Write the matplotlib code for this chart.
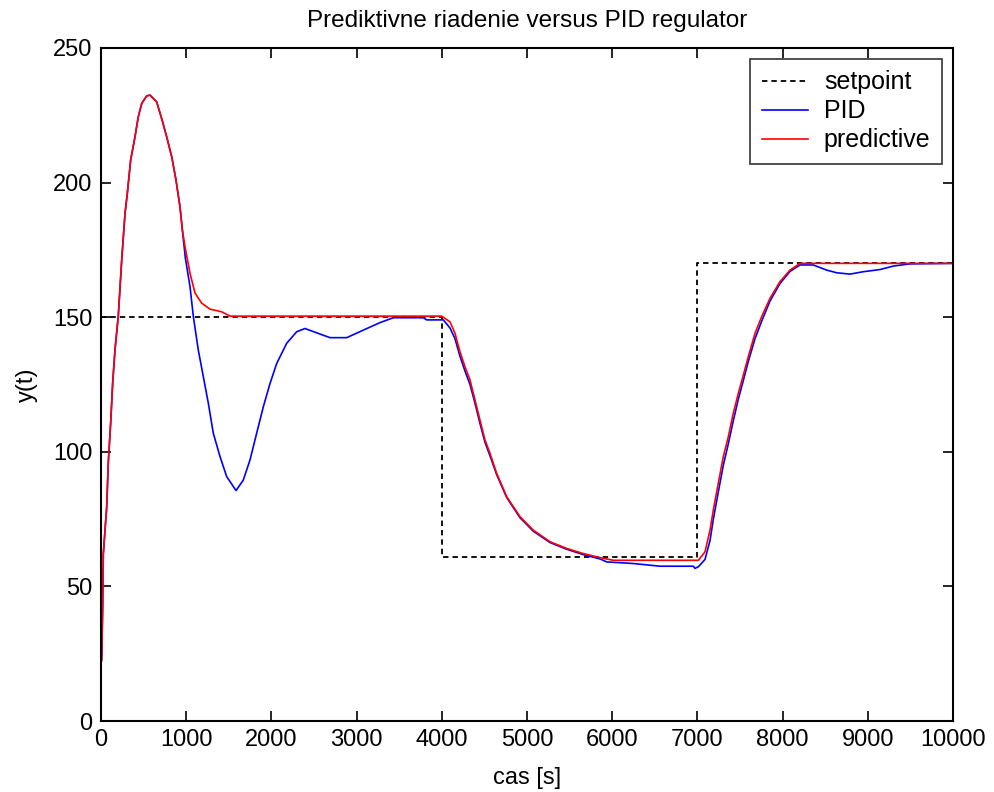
import matplotlib
matplotlib.use("Agg")
import matplotlib.pyplot as plt

plt.rcParams['font.family'] = ['Liberation Sans', 'DejaVu Sans']

# setpoint
sp_t = [0, 4000, 4000, 7000, 7000, 10000]
sp_y = [150, 150, 61, 61, 170, 170]

# PID response
pid_t = [0, 8, 20, 27, 67, 86, 114, 137, 164, 203, 243, 282, 309, 348, 399, 438,
         478, 536, 575, 653, 712, 771, 830, 880, 927, 955, 990, 1045, 1084, 1142,
         1201, 1260, 1318, 1397, 1475, 1585, 1670, 1749, 1827, 1905, 1984, 2062,
         2179, 2297, 2394, 2531, 2688, 2884, 3079, 3275, 3431, 3783, 3822, 4018,
         4096, 4155, 4213, 4272, 4331, 4390, 4448, 4507, 4566, 4644, 4762, 4918,
         5074, 5270, 5466, 5661, 5857, 5936, 6248, 6561, 6952, 6972, 7011, 7089,
         7148, 7187, 7245, 7304, 7363, 7421, 7480, 7539, 7597, 7676, 7754, 7852,
         7969, 8087, 8204, 8360, 8517, 8635, 8791, 8948, 9143, 9300, 9495, 10000]
pid_y = [22, 22.6, 43, 62, 79.6, 96.3, 111, 125.5, 137.8, 150.5, 171.2, 188.6,
         196, 208.4, 217, 224.5, 229.4, 232.2, 232.5, 230, 223.8, 217, 209.6, 201,
         191, 182.4, 172, 161.3, 150.2, 137.8, 127.9, 118, 106.9, 98.2, 90.8, 85.6,
         89.5, 97, 106.9, 116.7, 125.4, 132.8, 140.3, 144.6, 145.8, 144.2, 142.4,
         142.4, 145.2, 148, 149.8, 149.8, 149, 149, 146, 142, 135.5, 130, 125, 118,
         110.5, 103.5, 98.5, 91.5, 83, 75.5, 70.5, 66.3, 63.8, 61.8, 60.2, 59.1,
         58.5, 57.5, 57.5, 56.7, 57.3, 60, 67, 75, 85, 95, 103, 111.5, 119.5, 126.5,
         133.5, 142, 148.5, 156, 162.5, 167, 169.4, 169.4, 167.5, 166.5, 166, 166.9,
         167.7, 169, 169.8, 170]

# predictive response
pred_t = [0, 8, 20, 27, 67, 86, 114, 137, 164, 203, 243, 282, 309, 348, 399, 438,
          478, 536, 575, 653, 712, 771, 830, 880, 927, 955, 986, 1045, 1103, 1182,
          1279, 1417, 1514, 3998, 4096, 4155, 4213, 4272, 4331, 4390, 4448, 4507,
          4566, 4644, 4762, 4918, 5074, 5270, 5466, 5661, 5857, 6013, 7011, 7089,
          7148, 7187, 7245, 7304, 7363, 7421, 7480, 7539, 7597, 7676, 7754, 7852,
          7969, 8087, 8204, 10000]
pred_y = [22, 22.6, 43, 62, 79.6, 96.3, 111, 125.5, 137.8, 150.5, 171.2, 188.6,
          196, 208.4, 217, 224.5, 229.4, 232.2, 232.5, 230, 223.8, 217, 209.6, 201,
          191, 182.4, 176.2, 166.3, 159, 155.2, 153, 152, 150.4, 150.4, 148.3, 144,
          137.2, 131.6, 126.7, 119.2, 111.8, 104.4, 99.4, 92, 83.3, 75.9, 70.9, 66.6,
          64.1, 62.2, 60.7, 59.7, 59.7, 62.8, 70.9, 78.4, 88.3, 98.2, 105.6, 114.3,
          121.7, 128.5, 135.3, 144, 150.2, 157, 163.2, 167.5, 170, 170]

x_ticks = [0, 1000, 2000, 3000, 4000, 5000, 6000, 7000, 8000, 9000, 10000]
y_ticks = [0, 50, 100, 150, 200, 250]

fig = plt.figure(figsize=(9.95, 7.92), dpi=100)
ax = fig.add_axes([101/995, 1-721/792, (953-101)/995, (721-48)/792])

ax.plot(sp_t, sp_y, color='black', linestyle=(0, (3, 2.2)), linewidth=1.3, label='setpoint')
ax.plot(pid_t, pid_y, color='#0000ff', linewidth=1.2, label='PID')
ax.plot(pred_t, pred_y, color='#ff0000', linewidth=1.2, label='predictive')

ax.set_xlim(0, 10000)
ax.set_ylim(0, 250)
ax.set_xticks(x_ticks)
ax.set_yticks(y_ticks)
ax.tick_params(direction='in', top=True, right=True, length=7, width=1.2,
               labelsize=17, pad=6)
for s in ax.spines.values():
    s.set_linewidth(1.5)

ax.set_title('Prediktivne riadenie versus PID regulator', fontsize=17.5, pad=15)
ax.set_xlabel('cas [s]', fontsize=17, labelpad=11)
ax.set_ylabel('y(t)', fontsize=17, labelpad=11)

leg = ax.legend(loc='upper right', fontsize=18, frameon=True, fancybox=False,
                edgecolor='black', borderaxespad=0.45, handlelength=1.85,
                handletextpad=0.64, labelspacing=0.2, borderpad=0.45)
leg.get_frame().set_linewidth(1.2)

fig.savefig('out.png', dpi=100)
